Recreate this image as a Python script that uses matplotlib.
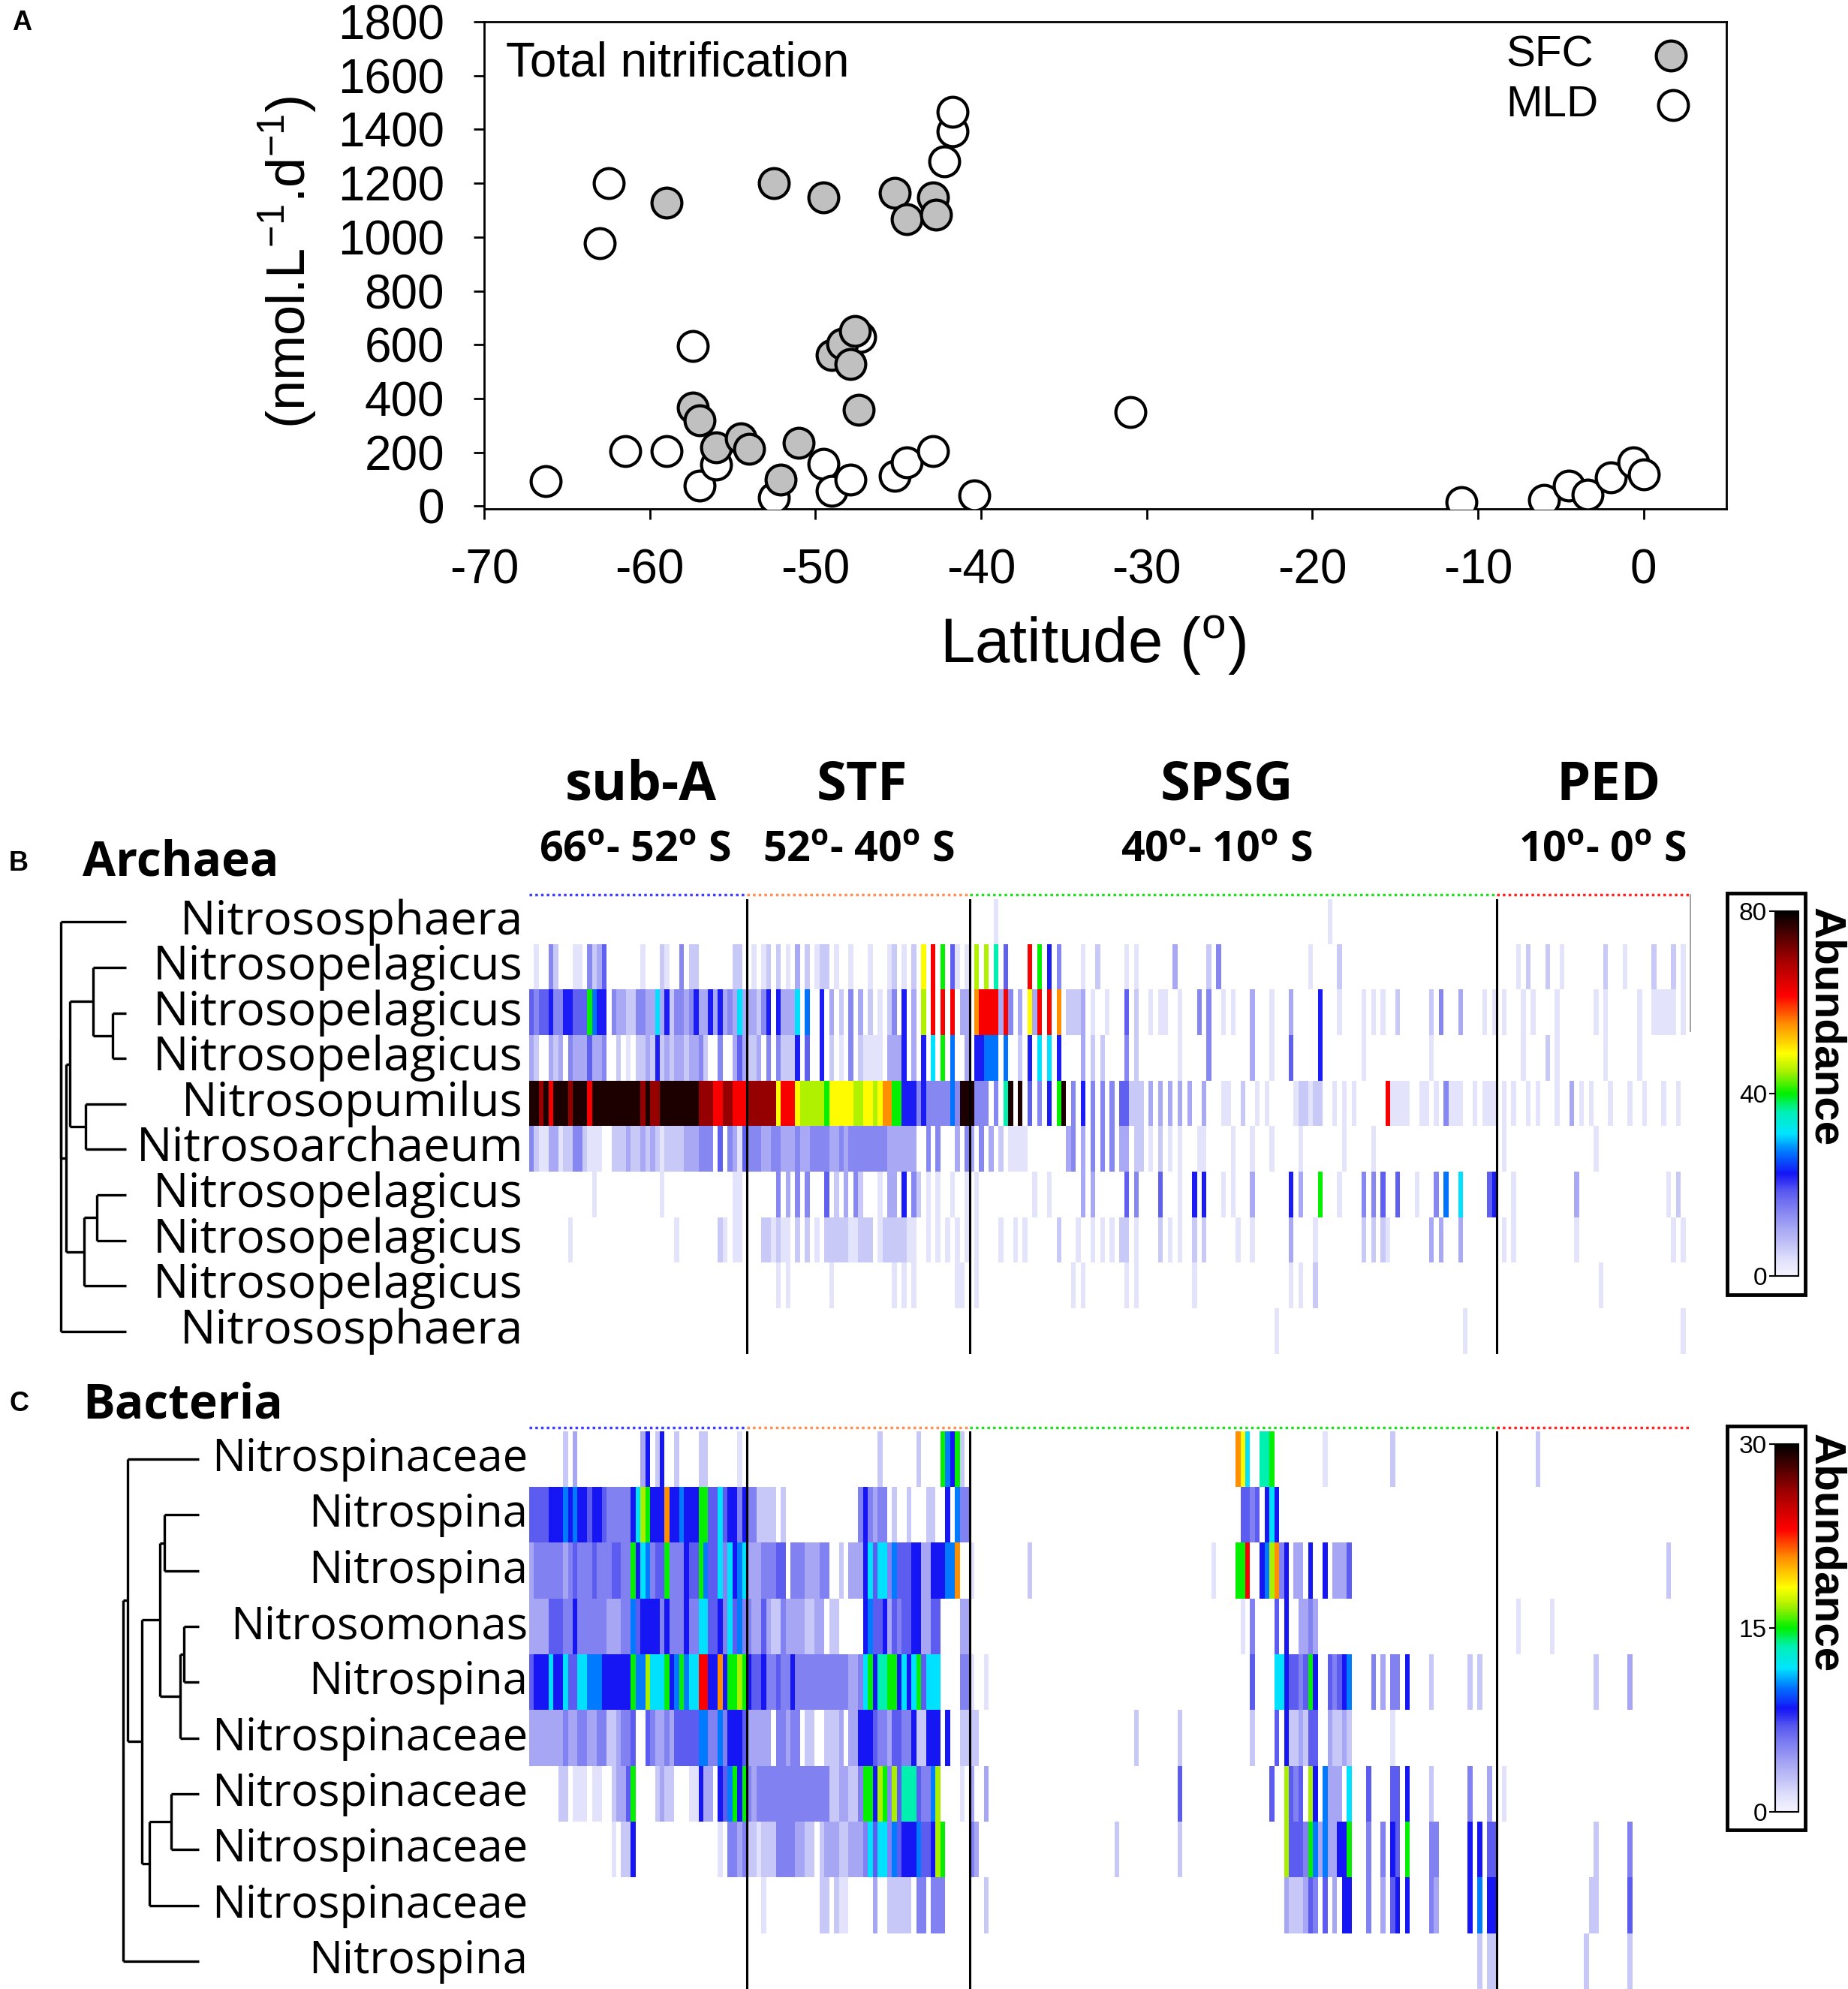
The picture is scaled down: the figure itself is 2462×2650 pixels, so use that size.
import numpy as np
import matplotlib
matplotlib.use("Agg")
import matplotlib.pyplot as plt
from matplotlib.colors import LinearSegmentedColormap, Normalize
from matplotlib.cm import ScalarMappable
from matplotlib.patches import Rectangle

plt.rcParams['axes.unicode_minus'] = False

# ---------------- panel A: total nitrification ----------------
sfc_lat = [-59.0, -52.5, -49.5, -45.2, -44.5, -42.9, -42.7, -57.4, -57.0, -56.0,
           -54.5, -54.0, -51.0, -52.1, -49.0, -48.4, -47.9, -47.4, -47.6]
sfc_rate = [1129, 1200, 1148, 1164, 1067, 1148, 1083, 366, 318, 220,
            252, 212, 236, 98, 562, 603, 529, 358, 650]
mld_lat = [-66.3, -62.5, -63.0, -61.5, -59.0, -57.4, -57.0, -56.0, -52.5, -49.5,
           -49.0, -47.9, -47.3, -45.2, -44.5, -42.9, -42.2, -41.7, -41.7, -40.4,
           -31.0, -11.0, -6.0, -4.5, -3.4, -2.0, -0.6, 0.0]
mld_rate = [93, 1200, 977, 204, 204, 594, 77, 155, 33, 158,
            57, 98, 630, 114, 163, 204, 1282, 1392, 1466, 41,
            350, 16, 24, 77, 44, 106, 163, 119]

# ---------------- panels B/C: heatmaps ----------------
# regions and number of sample columns in each
regions = ["sub-A", "STF", "SPSG", "PED"]
region_lat = ["66$^{\\mathregular{o}}$- 52$^{\\mathregular{o}}$ S", "52$^{\\mathregular{o}}$- 40$^{\\mathregular{o}}$ S",
              "40$^{\\mathregular{o}}$- 10$^{\\mathregular{o}}$ S", "10$^{\\mathregular{o}}$- 0$^{\\mathregular{o}}$ S"]
region_ncol = [45, 46, 109, 40]

arch_labels = ["Nitrososphaera", "Nitrosopelagicus", "Nitrosopelagicus", "Nitrosopelagicus",
               "Nitrosopumilus", "Nitrosoarchaeum", "Nitrosopelagicus", "Nitrosopelagicus",
               "Nitrosopelagicus", "Nitrososphaera"]
bact_labels = ["Nitrospinaceae", "Nitrospina", "Nitrospina", "Nitrosomonas", "Nitrospina",
               "Nitrospinaceae", "Nitrospinaceae", "Nitrospinaceae", "Nitrospinaceae", "Nitrospina"]

# abundance ('.' = empty)
arch_level = {'1': 3, '2': 6, '3': 10, '4': 14, '5': 18, '6': 22, 'b': 27, 'c': 31, 't': 36,
              'g': 40, 'v': 45, 'y': 49, 'o': 55, 'r': 62, 'd': 70, 'k': 78}
bact_level = {'1': 1.2, '2': 2.4, '3': 3.9, '4': 5.4, '5': 6.9, '6': 8.4, 'b': 10.2, 'c': 11.7,
              't': 13.5, 'g': 15, 'v': 16.8, 'y': 18.3, 'o': 20.7, 'r': 23.1, 'd': 26.1, 'k': 29.1}

# dense columns for sub-A and STF
arch_suba = [
    "",
    ".1..42...11.4235.......1...21..4.22.......22.",
    "54556" "44665" "55gb6" "6.433" "22443" "3c362" "44346" "33636" "343c3",
    "32..3" "23.43" "33533" "4..2." "1.223" "26232" "33233" "42..4" "..353",
    "kkdkr" "kkkdk" "kkrkk" "kkkkk" "kkkdk" "ddkkk" "kkkkk" "dddrr" "ddrrr",
    "42113" "31224" "42111" "..222" "32232" "32122" "22333" "444.5" ".4315",
    "....." "....." "...1." "....." "....." "..1.." "....." "....." "..11.",
    "....." "...1." "....." "....." "....." "....." "1...." "....2" "1.11.",
    "",
    "",
]
arch_stf = [
    "",
    ".1.12" ".2.1." "3.2.1" "22.1." ".1..." "1...1" "2.1.2" ".y.r." "g.51." "1",
    "33246" ".6333" "c.b.." "6.3.2" ".4.3." "2.1.2" "4.6.3" ".v.r." "r.r.3" "3",
    "223.4" ".4222" "6.5.." "6.2.1" ".4.21" "111.3" "336.3" ".6.c." "g.b.." "3",
    "ddddd" "dyrrr" "yvvvv" "vgyyy" "yyvvy" "yvyoo" "gg666" "46444" "44b4k" "k",
    "44433" "44333" "43344" "44334" "34444" "44443" "33333" "..4.4" "...3." "4",
    "....." ".4.3." "4.4.." ".5.2." "3.42." "..1.3" "3.6.4" "2.1.1" "..1.." "1",
    "...22" "1211." "2.2.1" ".2222" "21122" "2.122" "22211" "..1.1" ".1.1." "1",
    "....." ".1.1." "....." "..1.." "....." "....." "1.1.1" "....." "...11" ".",
    "",
]
# sparse columns (column:level) for SPSG and PED
arch_spsg = [
    "5:1 74:1",
    "1:v 3:v 5:t 7:5 12:r 14:g 16:6 18:4 23:1 26:2 32:1 34:1 42:3 49:2 51:4 70:1 76:2",
    "1:o 2:r 3:r 4:r 5:r 6:3 7:r 8:4 10:3 12:y 13:3 14:r 16:r 18:o 20:2 21:2 22:2 23:3 25:1 28:1 "
    "32:5 34:2 37:1 39:1 40:1 43:1 47:4 49:4 52:1 54:1 58:3 62:1 66:3 72:6 76:1 81:1 83:1 85:1 "
    "88:2 95:2 97:4 101:3 106:1 108:1",
    "1:6 2:6 3:b 4:b 5:b 7:b 10:2 12:6 14:c 16:c 18:6 23:3 25:2 27:2 32:4 34:2 43:1 49:4 58:3 "
    "62:1 66:5 72:6 81:1 95:1",
    "0:k 1:4 2:4 3:4 5:4 7:t 8:k 10:k 12:5 14:4 16:6 18:g 19:k 21:4 23:6 25:4 27:4 29:4 31:5 32:5 "
    "33:2 34:2 35:2 37:3 39:3 41:3 43:3 45:3 48:3 52:1 53:1 56:2 59:1 61:1 67:1 68:2 69:2 70:1 "
    "71:2 72:2 75:1 77:1 79:1 86:r 87:1 88:1 89:1 90:1 93:1 94:1 96:1 98:4 99:1 100:1 101:1 "
    "104:1 106:1 107:1 108:1",
    "0:3 2:4 4:3 6:2 8:1 9:1 10:1 11:1 20:3 21:4 23:3 25:4 27:4 29:4 31:3 32:3 34:2 35:2 37:1 "
    "39:2 41:1 43:1 47:1 48:1 54:1 58:1 62:1 68:1 77:1 83:1",
    "1:1 13:1 16:1 23:3 25:3 32:5 34:4 39:5 43:1 46:6 48:6 52:1 54:1 58:3 66:6 68:3 72:g 76:1 "
    "81:4 83:4 85:5 88:5 92:1 96:4 98:b 101:c 107:5 108:6",
    "1:1 6:1 9:1 11:1 18:2 22:1 25:1 27:1 29:1 31:2 32:2 34:1 39:2 41:1 43:1 46:2 48:2 55:1 "
    "58:1 66:3 71:1 81:2 83:2 85:2 86:1 95:3 97:3 101:3",
    "1:1 21:1 23:1 32:1 34:1 46:1 66:1 68:1 71:2",
    "63:1 102:1",
]
arch_ped = [
    "",
    "4:1 6:2 10:2 13:1 22:2 26:1 32:2 36:2 38:1",
    "1:1 5:1 7:1 12:1 20:1 22:1 29:1 32:1 33:1 34:1 35:1 36:1 38:1",
    "5:1 10:2 12:1 22:1 29:1",
    "1:1 3:1 6:1 8:1 12:1 15:3 17:1 19:1 23:1 27:1 30:1 34:1 37:1",
    "1:1 20:1",
    "3:1 16:3 35:1 37:2",
    "1:1 3:1 16:1 36:1 38:1",
    "21:1",
    "38:1",
]

bact_suba = [
    "....." "..2.3" "....." "....." "...36" ".26.." "2...." "22..." "...1.",
    "55556" "66b6b" "66566" "54444" "46cvg" "666o6" "6b666" "gg55c" "56646",
    "34444" "44345" "44454" "44554" "4g6cb" "455g4" "44655" "gb55c" "4c6bc",
    "33335" "55446" "44444" "43334" "4b566" "66464" "44644" "cc556" "4c5b4",
    "5666c" "66c55" "ccbbb" "66666" "6gbbv" "cccg6" "bgbcc" "rr66o" "6ggvg",
    "33333" "33433" "44334" "42234" "45..5" "43343" "55555" "bb44b" "46665",
    "....." ".22.1" "11.11" "..233" "5g..." ".2322" "...11" "633.6" "5bg6g",
    "....." "....." "....." "..1.2" "26..." "....." "....." "....1" ".4434",
    "",
    "",
]
bact_stf = [
    "....." "....." "....." "....." "....." "..2.." "....." "2...." "gb6g2" ".",
    "44222" "2.2.." "....." "....." "...46" "4344." "2..2." "..22." ".6.b4" "4",
    "33344" "455.4" "44333" "44..2" ".3336" "c5cc4" "b5556" "63366" "6bbo." ".",
    "43353" "22433" "33223" "3.22." "....6" "b5563" "54556" "63355" "....3" "3",
    "65564" "45446" "44444" "44444" "4334c" "g6ttg" "g6c6c" "g5ccc" "....4" "4",
    "33333" ".4434" "4.22." ".2223" ".3366" "65443" "55446" "22666" ".6..2" "2",
    "43444" "44444" "44444" "44223" "3224g" "g6vg4" "v5ttt" "544bv" "....1" ".",
    "22122" "24444" "3322." "23332" "23334" "c5cc4" "b5666" "b556v" "g...." ".",
    "...1." "....." "....." "22.21" "1...." ".3..2" "2222." "44.44" "4...." ".",
    "",
]
bact_spsg = [
    "55:o 56:y 57:c 60:t 61:t 62:g 73:1 87:2",
    "56:5 57:5 58:4 59:5 61:6 62:c 63:6",
    "0:1 12:2 50:1 55:g 56:g 57:r 60:6 61:b 62:v 63:o 64:4 65:6 67:3 68:3 70:6 73:6 75:3 76:3 "
    "77:3 78:5",
    "56:1 58:4 63:5 65:6 68:3 69:3 70:4 71:3",
    "0:1 3:1 58:5 63:c 64:c 65:6 66:5 67:5 68:4 69:5 70:g 71:6 74:5 75:4 76:5 77:6 78:b 83:4 "
    "85:3 87:4 88:4 90:6 95:2 103:2 105:2",
    "0:2 1:2 34:2 43:2 58:2 63:5 65:6 66:2 67:2 68:3 69:2 70:5 71:5 74:3 75:2 76:2 77:3 78:2 87:1",
    "0:3 3:3 43:5 62:5 65:v 66:5 67:4 68:5 70:v 71:6 73:b 74:3 75:3 76:3 78:c 82:5 87:5 88:5 "
    "90:6 95:2 103:4 107:3",
    "0:4 1:3 30:2 43:2 65:v 66:5 67:5 68:5 69:4 70:g 71:b 72:3 73:b 74:3 75:3 76:6 77:6 78:g "
    "82:4 85:4 87:6 88:5 90:g 95:4 96:4 103:6 105:6 107:5 108:5",
    "3:2 65:3 66:2 67:2 68:2 69:3 70:5 71:4 73:5 75:3 77:6 78:6 82:4 85:3 87:5 88:6 90:6 95:4 "
    "96:3 103:6 105:b 107:6 108:6",
    "105:2 107:2 108:2",
]
bact_ped = [
    "8:2",
    "",
    "35:2",
    "4:1 11:1",
    "20:2 27:3",
    "",
    "1:1",
    "20:2 27:4",
    "19:2 20:2 27:5",
    "18:2 27:2",
]


def build_matrix(suba, stf, spsg, ped, level):
    n1, n2, n3, n4 = region_ncol
    mat = []
    for i in range(10):
        cells = list(suba[i].ljust(n1, '.')[:n1]) + list(stf[i].ljust(n2, '.')[:n2])
        for txt, n in ((spsg[i], n3), (ped[i], n4)):
            seg = ['.'] * n
            for tok in txt.split():
                c, ch = tok.split(':')
                seg[int(c)] = ch
            cells += seg
        mat.append([level.get(ch, np.nan) for ch in cells])
    return np.array(mat, dtype=float)


arch = build_matrix(arch_suba, arch_stf, arch_spsg, arch_ped, arch_level)
bact = build_matrix(bact_suba, bact_stf, bact_spsg, bact_ped, bact_level)

cmap = LinearSegmentedColormap.from_list("abund", [
    (0.0, '#f2f2fe'), (0.04, '#e2e2fc'), (0.08, '#c6c6f8'), (0.13, '#a6a6f4'),
    (0.18, '#8282f2'), (0.23, '#5a5af0'), (0.28, '#1414f6'), (0.34, '#0078ff'),
    (0.39, '#00e4ff'), (0.45, '#00f0b4'), (0.5, '#00f000'), (0.56, '#a8f000'),
    (0.61, '#ffff00'), (0.69, '#ff9000'), (0.77, '#ff0000'), (0.87, '#a00000'),
    (1.0, '#000000')])
cmap.set_bad('white')

# ---------------- figure ----------------
W, H = 2462, 2650
fig = plt.figure(figsize=(W / 100, H / 100), dpi=100)

ARIAL = "Liberation Sans"
SEGOE = "Open Sans"

# panel A
axA = fig.add_axes([645 / W, 1 - 678 / H, 1655 / W, 649 / H])
axA.scatter(mld_lat, mld_rate, s=820, facecolor='white', edgecolor='black', linewidth=3, zorder=3)
axA.scatter(sfc_lat, sfc_rate, s=820, facecolor='#c0c0c0', edgecolor='black', linewidth=3, zorder=4)
axA.set_xlim(-70, 5)
axA.set_ylim(-10, 1800)
axA.set_xticks(range(-70, 1, 10))
axA.set_yticks(range(0, 1801, 200))
axA.tick_params(direction='out', length=10, width=2, labelsize=46, pad=28)
for lab in axA.get_xticklabels() + axA.get_yticklabels():
    lab.set_family(ARIAL)
for sp in axA.spines.values():
    sp.set_linewidth(2)
axA.text(0.0175, 0.915, "Total nitrification", transform=axA.transAxes, ha='left', va='center',
         fontsize=46, family=ARIAL)
axA.text(0.858, 0.931, "SFC", transform=axA.transAxes, ha='center', va='center', fontsize=42, family=ARIAL)
axA.text(0.860, 0.829, "MLD", transform=axA.transAxes, ha='center', va='center', fontsize=42, family=ARIAL)
axA.scatter([0.955], [0.931], s=820, facecolor='#c0c0c0', edgecolor='black', linewidth=3,
            transform=axA.transAxes, clip_on=False)
axA.scatter([0.957], [0.829], s=820, facecolor='white', edgecolor='black', linewidth=3,
            transform=axA.transAxes, clip_on=False)
axA.text(-0.158, 0.507, "(nmol.L$^{\\mathregular{-1}}$.d$^{\\mathregular{-1}}$)", transform=axA.transAxes,
         rotation=90, ha='center', va='center', fontsize=52, family=ARIAL)
axA.text(0.49, -0.28, "Latitude ($^{\\mathregular{o}}$)", transform=axA.transAxes,
         ha='center', va='center', fontsize=60, family=ARIAL)

# heatmaps
bounds = np.cumsum(region_ncol)[:-1]
ncols = int(np.sum(region_ncol))


def draw_heat(rect, mat, vmax):
    ax = fig.add_axes(rect)
    ax.imshow(mat, cmap=cmap, vmin=0, vmax=vmax, aspect='auto', interpolation='nearest',
              extent=(0, ncols, 10, 0))
    for b in bounds:
        ax.axvline(b, color='black', lw=2.2)
    ax.set_xlim(0, ncols)
    ax.set_ylim(10, 0)
    ax.axis('off')
    return ax


axB = draw_heat([705 / W, 1 - 1804 / H, 1547 / W, 606 / H], arch, 80)
axC = draw_heat([705 / W, 0, 1547 / W, 743 / H], bact, 30)


def draw_cbar(rect, vmax, ticks):
    cax = fig.add_axes(rect)
    cb = fig.colorbar(ScalarMappable(Normalize(0, vmax), cmap), cax=cax, ticks=ticks)
    cb.outline.set_linewidth(1.5)
    cax.yaxis.set_ticks_position('left')
    cax.tick_params(length=6, width=1.5, labelsize=24, pad=2)
    for lab in cax.get_yticklabels():
        lab.set_family(ARIAL)
    return cax


draw_cbar([2365 / W, 1 - 1700 / H, 31 / W, 486 / H], 80, [0, 40, 80])
draw_cbar([2365 / W, 1 - 2414 / H, 31 / W, 490 / H], 30, [0, 15, 30])

# overlay in pixel coordinates for labels, dendrograms and decorations
ov = fig.add_axes([0, 0, 1, 1])
ov.set_xlim(0, W)
ov.set_ylim(H, 0)
ov.axis('off')
ov.patch.set_alpha(0)

x0, x1 = 705, 2252
colw = (x1 - x0) / ncols
edges = [x0] + [x0 + b * colw for b in bounds] + [x1]
dot_colors = ['#3c3cff', '#ff8c50', '#20dc20', '#ff2020']
for ydot in (1192, 1902):
    for k in range(4):
        ov.plot([edges[k], edges[k + 1]], [ydot, ydot], color=dot_colors[k], lw=2.5,
                linestyle=(0, (1, 1.2)))
ov.plot([2252, 2252], [1192, 1374], color='#909090', lw=1.2)

# region headers
head_x = [854, 1148, 1634, 2143]
lat_x = [846, 1144, 1621, 2135]
for k in range(4):
    ov.text(head_x[k], 1047, regions[k], ha='center', va='center', fontsize=52,
            fontweight='bold', family=SEGOE)
    ov.text(lat_x[k], 1133, region_lat[k], ha='center', va='center', fontsize=40,
            fontweight='bold', family=SEGOE)

ov.text(29, 30, "A", ha='center', va='center', fontsize=26, fontweight='bold', family=ARIAL)
ov.text(25, 1150, "B", ha='center', va='center', fontsize=26, fontweight='bold', family=ARIAL)
ov.text(25, 1871, "C", ha='center', va='center', fontsize=26, fontweight='bold', family=ARIAL)
ov.text(110, 1150, "Archaea", ha='left', va='center', fontsize=46, fontweight='bold', family=SEGOE)
ov.text(110, 1873, "Bacteria", ha='left', va='center', fontsize=46, fontweight='bold', family=SEGOE)

# row labels
rowB = [1198 + 60.6 * (i + 0.5) for i in range(10)]
rowC = [1907 + 74.3 * (i + 0.5) for i in range(10)]
for i in range(10):
    ov.text(697, rowB[i], arch_labels[i], ha='right', va='center', fontsize=45.5, family=SEGOE)
    ov.text(703, rowC[i], bact_labels[i], ha='right', va='center', fontsize=43, family=SEGOE)

# dendrograms: (child a, child b, x of join)
linksB = [(2, 3, 150), (1, 10, 124), (4, 5, 114), (11, 12, 93), (6, 7, 129),
          (14, 8, 112), (13, 15, 88), (0, 16, 81), (17, 9, 81)]
linksC = [(3, 4, 245), (10, 5, 240), (1, 2, 219), (12, 11, 213), (6, 7, 228),
          (14, 8, 199), (13, 15, 189), (0, 16, 170), (17, 9, 164)]


def draw_tree(links, leaf_y, leaf_x):
    nx = {i: leaf_x for i in range(10)}
    ny = {i: leaf_y[i] for i in range(10)}
    for k, (a, b, x) in enumerate(links):
        nid = 10 + k
        for c in (a, b):
            ov.plot([x, nx[c]], [ny[c], ny[c]], color='black', lw=2.4, solid_capstyle='butt')
        ov.plot([x, x], [ny[a], ny[b]], color='black', lw=2.4, solid_capstyle='butt')
        nx[nid] = x
        ny[nid] = (ny[a] + ny[b]) / 2


draw_tree(linksB, rowB, 168)
draw_tree(linksC, rowC, 265)

# colorbar frames and titles
for (yt, yb, yc) in ((1190, 1725, 1368), (1900, 2438, 2069)):
    ov.add_patch(Rectangle((2301, yt), 104, yb - yt, fill=False, edgecolor='black', lw=3.5))
    ov.text(2432, yc, "Abundance", rotation=-90, ha='center', va='center', fontsize=42,
            fontweight='bold', family=ARIAL)

fig.savefig("out.png", dpi=100)
